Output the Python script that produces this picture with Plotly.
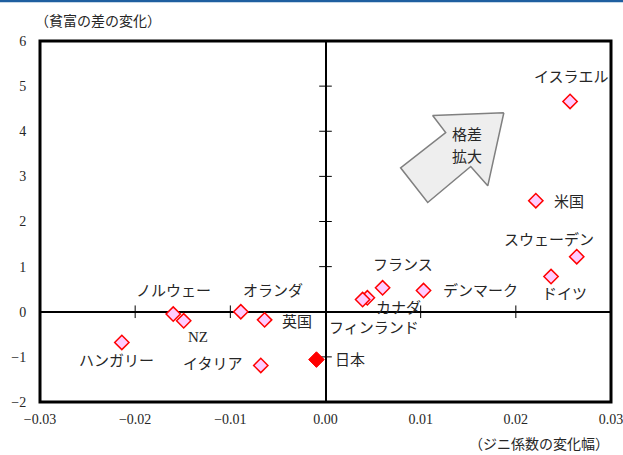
import plotly.graph_objects as go

# 国別: ジニ係数の変化幅 と 貧富の差の変化
countries = ['イスラエル', '米国', 'スウェーデン', 'ドイツ', 'デンマーク', 'フランス',
             'カナダ', 'フィンランド', '英国', 'オランダ', 'ノルウェー', 'NZ',
             'ハンガリー', 'イタリア']
gini_change = [0.0257, 0.0221, 0.0264, 0.0237, 0.0103, 0.0060,
               0.0044, 0.0039, -0.0064, -0.0089, -0.0160, -0.0149,
               -0.0214, -0.0068]
gap_change = [4.66, 2.46, 1.22, 0.78, 0.47, 0.53,
              0.31, 0.27, -0.18, 0.00, -0.05, -0.20,
              -0.68, -1.19]

japan_name = '日本'
japan_gini = -0.00095
japan_gap = -1.06

x_ticks = [-0.03, -0.02, -0.01, 0.00, 0.01, 0.02, 0.03]
x_ticktext = ['−0.03', '−0.02', '−0.01', '0.00', '0.01', '0.02', '0.03']
y_ticks = [-2, -1, 0, 1, 2, 3, 4, 5, 6]
y_ticktext = ['−2', '−1', '0', '1', '2', '3', '4', '5', '6']

# ラベルの位置調整 (px)
label_shift = {
    'イスラエル': (1, 24), '米国': (33, -1), 'スウェーデン': (-28, 17),
    'ドイツ': (13, -17), 'デンマーク': (57, 0), 'フランス': (20, 23),
    'カナダ': (31, -10), 'フィンランド': (11, -28), '英国': (32, -2),
    'オランダ': (32, 21), 'ノルウェー': (0, 23), 'NZ': (14, -16),
    'ハンガリー': (-5, -19), 'イタリア': (-48, 1), '日本': (34, 0),
}

FONT = 'Liberation Serif, Noto Sans CJK JP'
TXT = '#262626'

fig = go.Figure()

# 矢印 (格差拡大)
arrow_x = [0.01874, 0.01126, 0.01263, 0.00789, 0.01074, 0.01526, 0.01705, 0.01874]
arrow_y = [4.41, 4.35, 3.97, 3.19, 2.42, 3.22, 2.79, 4.41]
fig.add_trace(go.Scatter(x=arrow_x, y=arrow_y, mode='lines', fill='toself',
                         fillcolor='#eeeeee', line=dict(color='#808080', width=1.5),
                         hoverinfo='skip'))

# 軸上の目盛り
fig.add_trace(go.Scatter(x=[t for t in x_ticks if t != 0], y=[0] * 6, mode='markers',
                         marker=dict(symbol='line-ns', size=9,
                                     line=dict(color='black', width=1)),
                         hoverinfo='skip'))
fig.add_trace(go.Scatter(x=[0] * 8, y=[t for t in y_ticks if t != 0], mode='markers',
                         marker=dict(symbol='line-ew', size=9,
                                     line=dict(color='black', width=1)),
                         hoverinfo='skip'))

fig.add_trace(go.Scatter(x=gini_change, y=gap_change, mode='markers',
                         marker=dict(symbol='diamond', size=11, color='#ffccff',
                                     line=dict(color='#ff0000', width=1.5))))
fig.add_trace(go.Scatter(x=[japan_gini], y=[japan_gap], mode='markers',
                         marker=dict(symbol='diamond', size=12, color='#ff0000',
                                     line=dict(color='#ff0000', width=1))))

for name, gx, gy in list(zip(countries, gini_change, gap_change)) + [(japan_name, japan_gini, japan_gap)]:
    dx, dy = label_shift[name]
    fig.add_annotation(x=gx, y=gy, text=name, showarrow=False, xshift=dx, yshift=dy,
                       font=dict(size=15, color=TXT, family=FONT))

fig.add_annotation(x=0.0149, y=3.92, text='格差', showarrow=False,
                   font=dict(size=15, color=TXT, family=FONT))
fig.add_annotation(x=0.0149, y=3.44, text='拡大', showarrow=False,
                   font=dict(size=15, color=TXT, family=FONT))

# 軸タイトル
fig.add_annotation(xref='paper', yref='paper', x=-0.012, y=1.053, xanchor='left',
                   yanchor='middle', text='（貧富の差の変化）', showarrow=False,
                   font=dict(size=14, color=TXT, family=FONT))
fig.add_annotation(xref='paper', yref='paper', x=1.0, y=-0.118, xanchor='right',
                   yanchor='middle', text='（ジニ係数の変化幅）', showarrow=False,
                   font=dict(size=14, color=TXT, family=FONT))

# 外枠
fig.add_shape(type='rect', xref='paper', yref='paper', x0=0, y0=0, x1=1, y1=1,
              line=dict(color='black', width=3))
# 上部の青線
fig.add_shape(type='rect', xref='paper', yref='paper', x0=-0.1, x1=1.05,
              y0=1.107, y1=1.12, line=dict(width=0), fillcolor='#1f5fa0')

fig.update_layout(
    width=623, height=455,
    margin=dict(l=40, r=12, t=41, b=53, autoexpand=False),
    paper_bgcolor='white', plot_bgcolor='white',
    showlegend=False,
    font=dict(family=FONT, size=14, color=TXT),
    xaxis=dict(range=[-0.03, 0.03], tickvals=x_ticks, ticktext=x_ticktext,
               showgrid=False, zeroline=True, zerolinecolor='black', zerolinewidth=2,
               showline=False, ticks='outside', ticklen=4, tickcolor='rgba(0,0,0,0)',
               ticklabeloverflow='allow', automargin=False, fixedrange=True),
    yaxis=dict(range=[-2, 6], tickvals=y_ticks, ticktext=y_ticktext, showgrid=False,
               zeroline=True, zerolinecolor='black', zerolinewidth=2,
               showline=False, ticks='outside', ticklen=10, tickcolor='rgba(0,0,0,0)',
               ticklabeloverflow='allow', automargin=False, fixedrange=True),
)

fig.write_html('out.html', config={'displayModeBar': False},
               post_script="document.body.style.margin='0';document.body.style.overflow='hidden';")
